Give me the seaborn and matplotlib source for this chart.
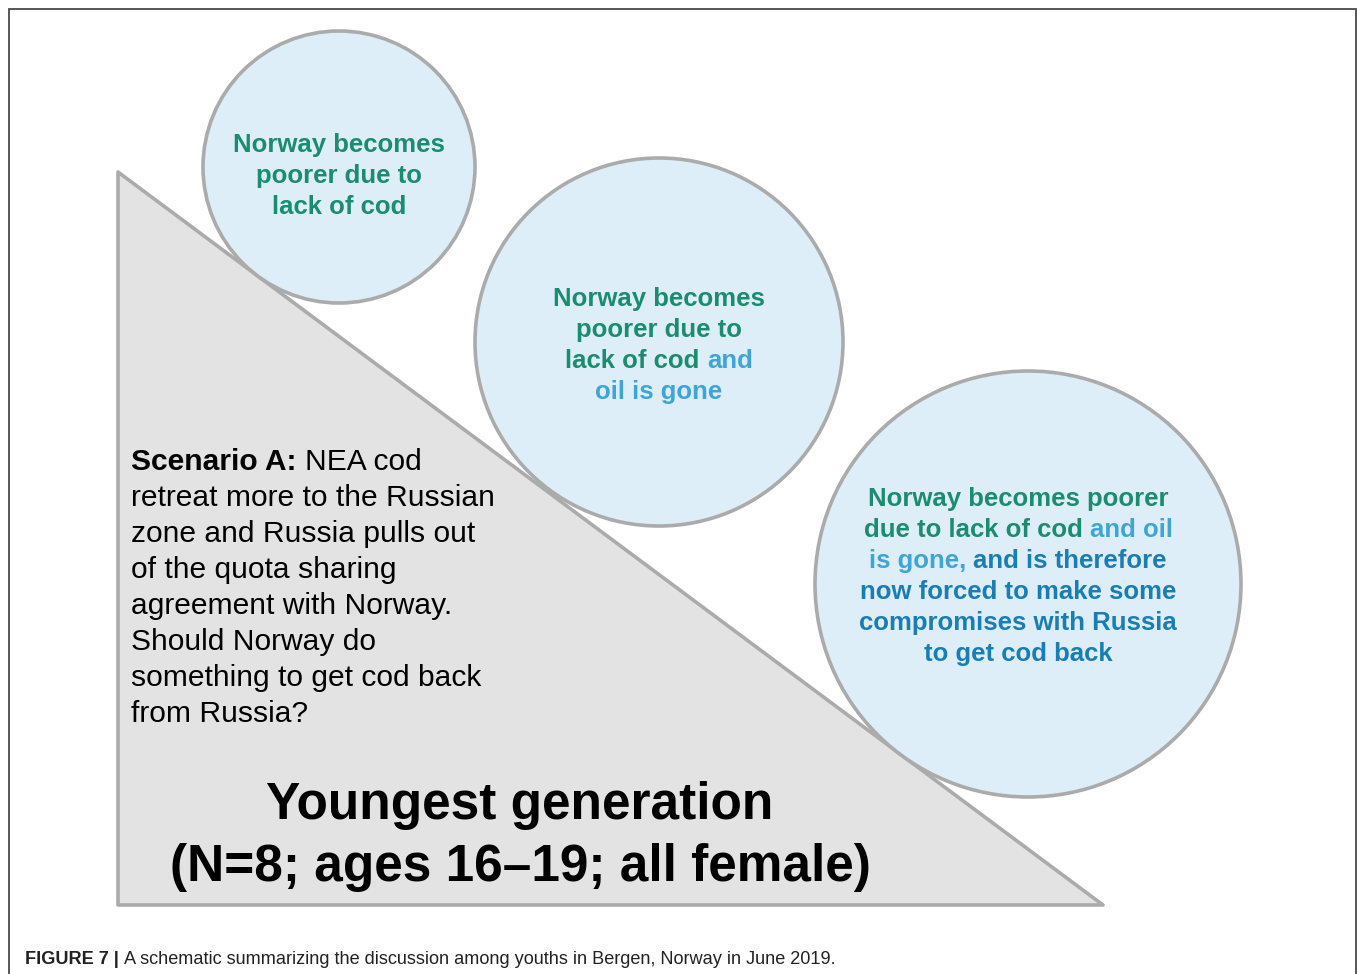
import matplotlib
matplotlib.use("Agg")
import matplotlib.pyplot as plt
from matplotlib.patches import Circle, Polygon
import seaborn as sns

sns.set_theme(style="white")
plt.rcParams['font.family'] = ['Liberation Sans', 'DejaVu Sans']

# ---------------- content ----------------
GREEN = "#1b8c6d"
LBLUE = "#3fa5d7"
DBLUE = "#1a7db5"

circle1_lines = [
    [("Norway becomes", GREEN)],
    [("poorer due to", GREEN)],
    [("lack of cod", GREEN)],
]
circle2_lines = [
    [("Norway becomes", GREEN)],
    [("poorer due to", GREEN)],
    [("lack of cod", GREEN), ("and", LBLUE)],
    [("oil is gone", LBLUE)],
]
circle3_lines = [
    [("Norway becomes poorer", GREEN)],
    [("due to lack of cod", GREEN), ("and oil", LBLUE)],
    [("is gone,", LBLUE), ("and is therefore", DBLUE)],
    [("now forced to make some", DBLUE)],
    [("compromises with Russia", DBLUE)],
    [("to get cod back", DBLUE)],
]
scenario_lines = [
    [("Scenario A:", "bold"), ("NEA cod", "normal")],
    [("retreat more to the Russian", "normal")],
    [("zone and Russia pulls out", "normal")],
    [("of the quota sharing", "normal")],
    [("agreement with Norway.", "normal")],
    [("Should Norway do", "normal")],
    [("something to get cod back", "normal")],
    [("from Russia?", "normal")],
]
group_title = ["Youngest generation", "(N=8; ages 16\u201319; all female)"]
caption_bold = "FIGURE 7 |"
caption_text = "A schematic summarizing the discussion among youths in Bergen, Norway in June 2019."

# ---------------- figure ----------------
W, H = 1358, 974
fig = plt.figure(figsize=(W / 100, H / 100), dpi=100)
ax = fig.add_axes([0, 0, 1, 1])
ax.set_xlim(0, W)
ax.set_ylim(H, 0)
ax.axis("off")

# frame
ax.plot([8.5, 8.5, 1356, 1356], [H + 5, 9, 9, H + 5], color="#4a4a4a", lw=1.3,
        solid_joinstyle="miter", zorder=1)

EDGE = "#ababab"
tri = Polygon([(118, 172), (118, 905), (1103, 905)], closed=True,
              facecolor="#e3e3e3", edgecolor=EDGE, lw=2.6, joinstyle="round", zorder=2)
ax.add_patch(tri)

circles = [(339, 167, 136), (659, 342, 184), (1028, 584, 213)]
for cx, cy, r in circles:
    ax.add_patch(Circle((cx, cy), r, facecolor="#ddeef9", edgecolor=EDGE, lw=2.6, zorder=3))

renderer = fig.canvas.get_renderer()


def width_of(t):
    bb = t.get_window_extent(renderer)
    return bb.width


def space_width(size, weight, family=None):
    kw = dict(fontsize=size, fontweight=weight)
    if family:
        kw["family"] = family
    a = ax.text(0, 0, "x x", **kw)
    b = ax.text(0, 0, "xx", **kw)
    w = width_of(a) - width_of(b)
    a.remove(); b.remove()
    return w


def rich_line(x, y, segs, size, ha="center", family=None):
    # segs: list of (text, color, weight)
    texts = []
    for s, c, wgt in segs:
        kw = dict(fontsize=size, fontweight=wgt, color=c, va="center", ha="left", zorder=5)
        if family:
            kw["family"] = family
        texts.append(ax.text(0, y, s, **kw))
    widths = [width_of(t) for t in texts]
    sp = space_width(size, segs[-1][2], family)
    total = sum(widths) + sp * (len(segs) - 1)
    x0 = x - total / 2 if ha == "center" else x
    for t, w in zip(texts, widths):
        t.set_x(x0)
        x0 += w + sp


def circle_text(cx, y0, lines, dy, size):
    for i, line in enumerate(lines):
        rich_line(cx, y0 + i * dy, [(s, c, "bold") for s, c in line], size)


circle_text(339, 145, circle1_lines, 31, 18.5)
circle_text(659, 299, circle2_lines, 31, 18.5)
circle_text(1018, 499, circle3_lines, 31, 18.5)

for i, line in enumerate(scenario_lines):
    rich_line(131, 462 + i * 36, [(s, "black", w) for s, w in line], 21.6, ha="left")

ax.text(520, 806, group_title[0], fontsize=37, fontweight="bold", ha="center",
        va="center", color="black", zorder=5)
ax.text(520, 868, group_title[1], fontsize=37, fontweight="bold", ha="center",
        va="center", color="black", zorder=5)

cap_fam = ["Liberation Sans Narrow", "Liberation Sans", "DejaVu Sans"]
rich_line(25, 959, [(caption_bold, "#222222", "bold"), (caption_text, "#222222", "normal")],
          13.1, ha="left", family=cap_fam)

fig.savefig("out.png", dpi=100)
